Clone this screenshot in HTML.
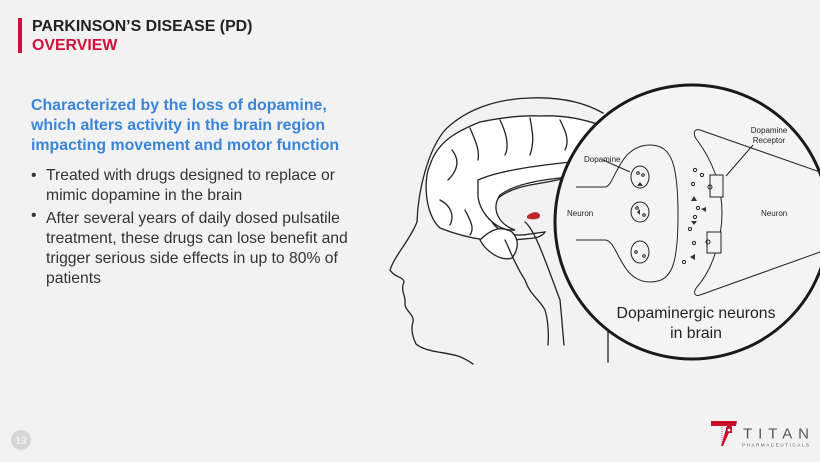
<!DOCTYPE html>
<html><head><meta charset="utf-8"><style>
body{margin:0;width:820px;height:462px;background:#f2f2f2;overflow:hidden;position:relative;font-family:"Liberation Sans",Arial,sans-serif}
.t{position:absolute;white-space:nowrap}
</style></head><body>
<div style="position:absolute;left:18px;top:18px;width:4px;height:35px;background:#d0103a"></div>
<div class="t" style="left:32px;top:17px;font-size:15.9px;font-weight:bold;color:#222;line-height:19px">PARKINSON’S DISEASE (PD)</div>
<div class="t" style="left:32px;top:36px;font-size:15.9px;font-weight:bold;color:#d0103a;line-height:19px">OVERVIEW</div>
<div class="t" style="left:31px;top:96px;font-size:15.9px;font-weight:bold;color:#3a84d9;line-height:20px">Characterized by the loss of dopamine,<br>which alters activity in the brain region<br>impacting movement and motor function</div>
<div class="t" style="left:31px;top:166px;font-size:15.7px;color:#333;line-height:20px">•<br><br>•</div>
<div class="t" style="left:46px;top:166px;font-size:15.7px;color:#333;line-height:20px">Treated with drugs designed to replace or<br>mimic dopamine in the brain</div>
<div class="t" style="left:46px;top:209px;font-size:15.7px;color:#333;line-height:20px">After several years of daily dosed pulsatile<br>treatment, these drugs can lose benefit and<br>trigger serious side effects in up to 80% of<br>patients</div>

<svg style="position:absolute;left:0;top:0" width="820" height="462" viewBox="0 0 820 462">
<g fill="none" stroke="#222" stroke-width="1.3" stroke-linecap="round">
<path d="M603 113 C580 100 555 97 530 98 C495 99 465 110 445 130 C428 150 418 190 417 222 C410 240 395 255 390 270 C395 278 403 276 404 282 C400 290 406 296 405 303 C404 310 415 315 413 322 C410 330 414 340 416 344 C425 352 445 352 458 356 C466 359 470 362 473 364"/>
<path d="M608 325 L608 362"/>
<path fill="#fff" d="M440 228 C425 215 423 180 430 165 C438 140 460 130 480 122 C500 118 520 115 540 116 C560 115 580 118 600 125 L600 160 C590 175 560 180 530 185 C505 190 490 200 490 215 C492 230 510 238 530 234 L545 232 C540 240 525 238 515 240 C500 243 470 240 440 228 Z"/>
<path fill="#fff" d="M478 180 C500 170 540 165 590 160 L590 175 C560 178 520 180 500 195 C490 210 500 225 515 230 C495 232 478 210 478 195 Z"/>
<path d="M452 150 C460 160 458 170 448 180 M470 128 C475 140 480 150 478 160 M500 120 C505 130 510 145 505 155 M530 118 C532 130 535 140 530 155 M560 120 C565 130 570 140 565 150 M440 200 C450 205 455 215 450 225 M465 210 C470 220 475 228 470 235"/>
<path fill="#fff" d="M480 240 C485 250 500 262 512 258 C518 250 520 240 512 232 C500 225 490 230 480 240 Z"/>
<path d="M505 240 C510 250 515 265 525 280 C530 295 540 300 545 310 C548 320 549 330 548 345"/>
<path d="M525 222 C535 230 545 260 560 300 C562 320 563 335 564 345"/>
<path fill="#c0262b" stroke="none" d="M527 216 C532 211 540 211 540 216 C540 220 530 220 527 218 Z"/>
</g>
<circle cx="692" cy="222" r="137" fill="#f4f4f4" stroke="#1a1a1a" stroke-width="3"/>
<g fill="none" stroke="#222" stroke-width="1">
<path d="M576 187 L605 187 C615 187 618 145 650 145 C672 145 678 165 678 215 C678 265 672 282 650 282 C620 282 618 240 605 240 L576 240"/>
<ellipse cx="640" cy="177" rx="9" ry="11"/>
<ellipse cx="640" cy="212" rx="9" ry="10"/>
<ellipse cx="640" cy="252" rx="9" ry="11"/>
<path d="M820 172 L700 130 C693 128 693 135 697 140 C712 160 722 185 722 213 C722 240 712 270 697 287 C693 292 694 297 700 295 L820 252"/>
<rect x="710" y="175" width="13" height="22" fill="#f4f4f4"/>
<rect x="707" y="232" width="14" height="21" fill="#f4f4f4"/>
<path d="M603 160 L630 172 M753 145 L726 176"/>
<circle cx="710" cy="187" r="2"/><circle cx="708" cy="242" r="2"/>
<circle cx="695" cy="170" r="1.6"/><circle cx="702" cy="175" r="1.6"/><circle cx="693" cy="184" r="1.6"/>
<circle cx="698" cy="208" r="1.6"/><circle cx="695" cy="217" r="1.6"/><circle cx="690" cy="229" r="1.6"/>
<circle cx="694" cy="243" r="1.6"/><circle cx="684" cy="262" r="1.6"/>
<circle cx="638" cy="173" r="1.3"/><circle cx="643" cy="175" r="1.3"/><circle cx="637" cy="208" r="1.3"/><circle cx="644" cy="215" r="1.3"/><circle cx="636" cy="252" r="1.3"/><circle cx="644" cy="256" r="1.3"/>
</g>
<g fill="#333">
<path d="M694 196 l3 5 h-6z M706 207 l-5 2 l5 3z M694 225 l3 -4 h-6z M690 257 l5 -3 v6z M640 182 l3 4 h-6z M637 212 l3 -3 v6z"/>
</g>
<g font-family="Liberation Sans,Arial,sans-serif" fill="#222" font-size="8">
<text x="584" y="162">Dopamine</text>
<text x="769" y="133" text-anchor="middle">Dopamine</text>
<text x="769" y="143" text-anchor="middle">Receptor</text>
<text x="567" y="216">Neuron</text>
<text x="761" y="216">Neuron</text>
<text x="696" y="318" text-anchor="middle" font-size="15.8">Dopaminergic neurons</text>
<text x="696" y="338" text-anchor="middle" font-size="15.8">in brain</text>
</g>
<circle cx="21" cy="440" r="10" fill="#d6d6d6"/>
<text x="21" y="444" text-anchor="middle" font-family="Liberation Sans,Arial,sans-serif" font-size="10" fill="#fff">13</text>
<path d="M711 421 L737 421 L736 426 L732 426 L723 446 L721 446 L727 426 L711 426Z" fill="#c8102e"/>
<rect x="726" y="427" width="6" height="6" fill="#c8102e"/>
<circle cx="729" cy="430" r="1.3" fill="#fff"/>
<line x1="722" y1="427" x2="722" y2="443" stroke="#c8102e" stroke-width="0.6" stroke-dasharray="1 1"/>
<text x="743" y="438.5" font-family="Liberation Sans,Arial,sans-serif" font-size="15" fill="#555" textLength="66" lengthAdjust="spacing">TITAN</text>
<text x="742" y="446.5" font-family="Liberation Sans,Arial,sans-serif" font-size="4.5" fill="#555" textLength="67" lengthAdjust="spacing">PHARMACEUTICALS</text>
</svg>
</body></html>
